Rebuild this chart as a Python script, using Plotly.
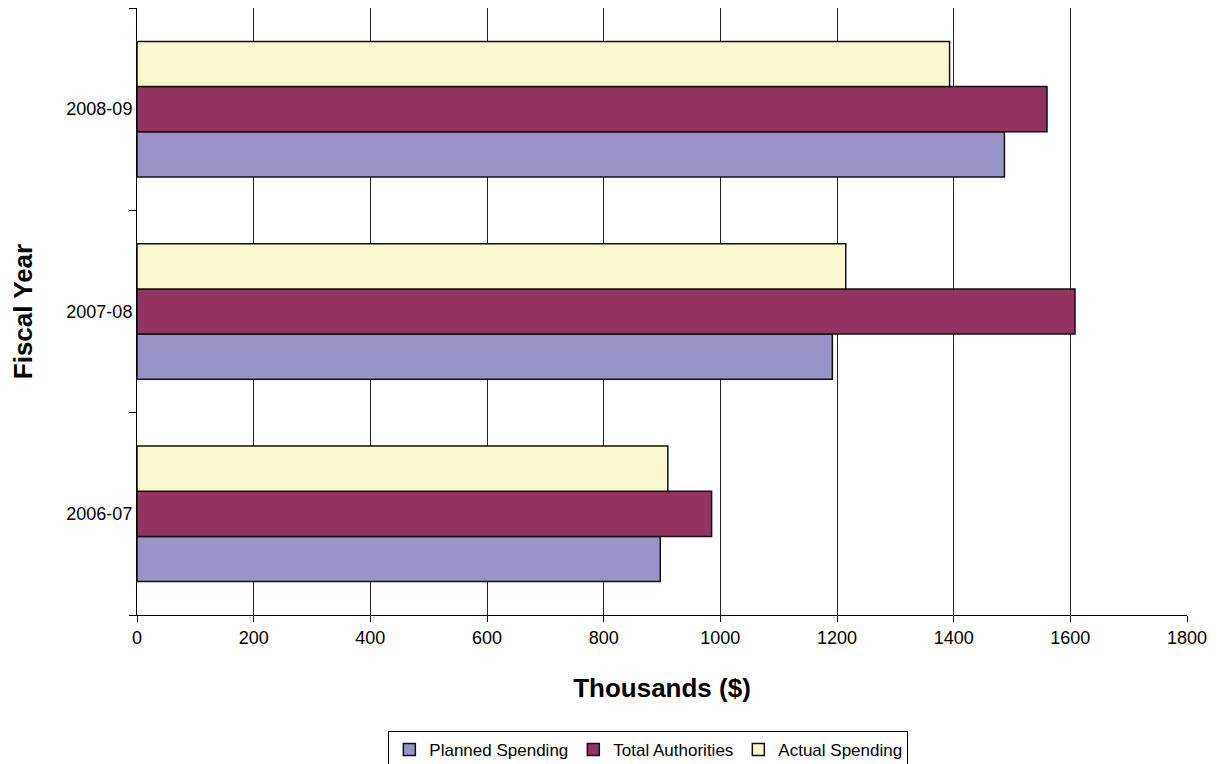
import plotly.graph_objects as go

years = ["2006-07", "2007-08", "2008-09"]
planned = [897, 1192, 1487]
total = [985, 1608, 1560]
actual = [910, 1215, 1393]
x_ticks = [0, 200, 400, 600, 800, 1000, 1200, 1400, 1600, 1800]

series = [
    ("Planned Spending", planned, "#9894C8"),
    ("Total Authorities", total, "#93335F"),
    ("Actual Spending", actual, "#FAF8CD"),
]

fig = go.Figure()
for name, vals, col in series:
    fig.add_trace(go.Bar(
        y=years, x=vals, name=name, orientation="h",
        marker=dict(color=col, line=dict(color="#111111", width=1.5)),
    ))

fig.update_layout(
    width=1210, height=756,
    margin=dict(l=129, r=31, t=0, b=149, autoexpand=False),
    paper_bgcolor="white", plot_bgcolor="white",
    barmode="group", bargap=0.33, bargroupgap=0,
    font=dict(family="Liberation Sans, Arial, sans-serif", size=18, color="black"),
    showlegend=True,
    legend=dict(
        orientation="h", x=0.487, xanchor="center", y=-0.191, yanchor="top",
        bordercolor="black", borderwidth=1, font=dict(size=17),
        traceorder="normal", itemwidth=30,
    ),
)
fig.update_xaxes(
    range=[0, 1800], tickvals=x_ticks, ticktext=[str(v) for v in x_ticks],
    showgrid=True, gridcolor="#222222", gridwidth=1,
    showline=True, linecolor="black", linewidth=1,
    ticks="outside", ticklen=6, tickcolor="black",
    zeroline=False,
    title=dict(text="<b>Thousands ($)</b>", font=dict(size=26), standoff=32),
)
fig.update_yaxes(
    type="category", categoryorder="array", categoryarray=years,
    showline=True, linecolor="black", linewidth=1,
    ticks="outside", ticklen=7, tickcolor="black", tickson="boundaries",
    showgrid=False,
    title=dict(text="<b>Fiscal Year</b>", font=dict(size=26), standoff=29),
)
fig.write_html("out.html")
